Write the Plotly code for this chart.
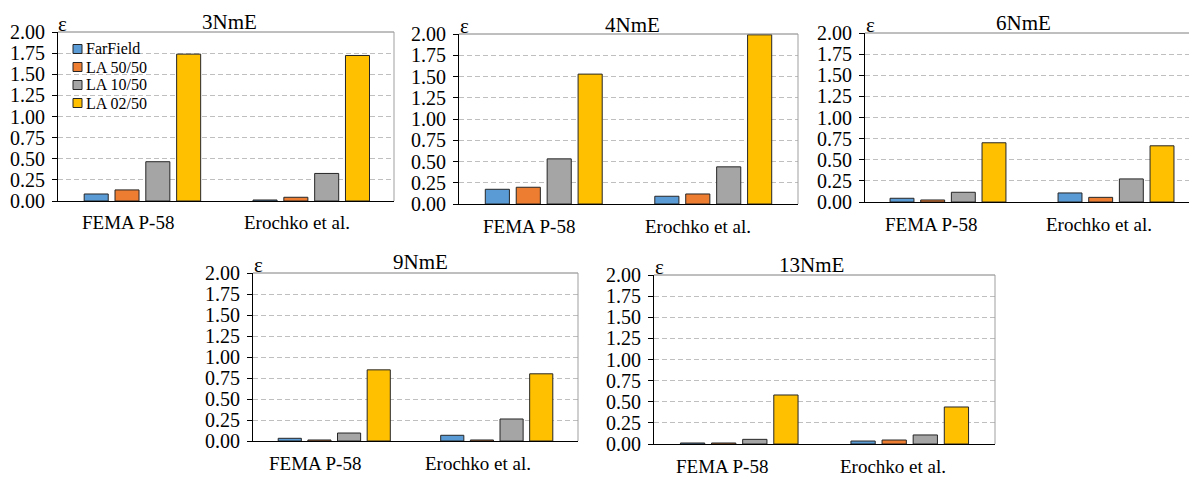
import plotly.graph_objects as go

# ---------------- data ----------------
panels = ["3NmE", "4NmE", "6NmE", "9NmE", "13NmE"]
categories = ["FEMA P-58", "Erochko et al."]
series = ["FarField", "LA 50/50", "LA 10/50", "LA 02/50"]
colors = ["#5B9BD5", "#ED7D31", "#A5A5A5", "#FFC000"]

# values per panel (order of `panels`)
farfield_fema = [0.083, 0.173, 0.044, 0.032, 0.012]
farfield_erochko = [0.012, 0.091, 0.107, 0.068, 0.035]
la5050_fema = [0.131, 0.197, 0.024, 0.012, 0.012]
la5050_erochko = [0.044, 0.118, 0.055, 0.012, 0.047]
la1050_fema = [0.465, 0.531, 0.115, 0.095, 0.055]
la1050_erochko = [0.326, 0.437, 0.273, 0.262, 0.107]
la0250_fema = [1.738, 1.528, 0.701, 0.847, 0.580]
la0250_erochko = [1.722, 1.990, 0.665, 0.800, 0.438]

y_ticks = [0.0, 0.25, 0.5, 0.75, 1.0, 1.25, 1.5, 1.75, 2.0]

series_values = [
    (farfield_fema, farfield_erochko),
    (la5050_fema, la5050_erochko),
    (la1050_fema, la1050_erochko),
    (la0250_fema, la0250_erochko),
]

# ---------------- layout geometry (page pixels) ----------------
PAGE_W, PAGE_H = 1197, 478
OFF = 8  # default page body margin
W, H = PAGE_W - OFF, PAGE_H - OFF
# plot areas: left, right, top, bottom
areas = [(58, 394, 32, 201), (459, 798, 34, 204), (865, 1197, 33, 202),
         (253, 578, 273, 441), (654, 995, 275, 444)]
xranges = [[-0.5, 1.49], [-0.5, 1.5], [-0.494, 1.482], [-0.5, 1.5], [-0.5, 1.5]]
title_pos = [(229, 22), (632, 25), (1023, 23), (420, 262), (812, 265)]
label_shift = [-14, -15, -17, -19, -17]

def px(x):
    return (x - OFF) / W

def py(y):
    return 1 - (y - OFF) / H

FONT = "Liberation Serif"

fig = go.Figure()
layout_axes = {}
shapes = []
annotations = []

for i, p in enumerate(panels):
    n = i + 1
    xa = "x" if n == 1 else f"x{n}"
    ya = "y" if n == 1 else f"y{n}"
    for s, name in enumerate(series):
        fema, ero = series_values[s]
        fig.add_trace(go.Bar(
            x=[0, 1], y=[fema[i], ero[i]], name=name,
            marker=dict(color=colors[s], line=dict(color="#262626", width=1)),
            xaxis=xa, yaxis=ya, legendgroup=name, showlegend=False,
        ))
    l, r, t, b = areas[i]
    layout_axes["xaxis" if n == 1 else f"xaxis{n}"] = dict(
        domain=[px(l), min(px(r), 1.0)], range=xranges[i], anchor=ya,
        tickvals=[0, 1], showticklabels=False, ticks="",
        showline=True, linecolor="#000000", linewidth=1,
        showgrid=False, zeroline=False, fixedrange=True,
    )
    layout_axes["yaxis" if n == 1 else f"yaxis{n}"] = dict(
        domain=[py(b), py(t)], range=[0, 2], anchor=xa,
        tickvals=y_ticks, tickformat=".2f",
        ticks="outside", ticklen=5, tickcolor="#000000", tickwidth=1,
        showline=True, linecolor="#000000", linewidth=1,
        showgrid=True, gridcolor="#BFBFBF", gridwidth=1, griddash="5px,3px",
        zeroline=False, fixedrange=True,
        tickfont=dict(family=FONT, size=20, color="#000000"),
        ticklabelstandoff=3,
    )
    # category labels under each group
    for c, cat in enumerate(categories):
        annotations.append(dict(text=cat, x=c, xref=xa, y=py(b + 22), yref="paper",
                                xanchor="center", yanchor="middle", xshift=label_shift[i],
                                showarrow=False,
                                font=dict(family=FONT, size=19, color="#000000")))
    # top / right border of plot area
    xd = f"{xa} domain"
    yd = f"{ya} domain"
    shapes.append(dict(type="line", xref=xd, yref=yd, x0=0, x1=1, y0=1, y1=1,
                       line=dict(color="#7F7F7F", width=1)))
    if i != 2:
        shapes.append(dict(type="line", xref=xd, yref=yd, x0=1, x1=1, y0=0, y1=1,
                           line=dict(color="#9F9F9F", width=1)))
    # title
    tx, ty = title_pos[i]
    annotations.append(dict(text=p, x=px(tx), y=py(ty), xref="paper", yref="paper",
                            xanchor="center", yanchor="middle", showarrow=False,
                            font=dict(family=FONT, size=21, color="#000000")))
    # epsilon label
    annotations.append(dict(text="ε", x=px(l + 5), y=py(t - 8), xref="paper", yref="paper",
                            xanchor="center", yanchor="middle", showarrow=False,
                            font=dict(family=FONT, size=21, color="#000000")))

# legend (inside first panel)
leg_rows = [49, 67, 85, 103]
for s, name in enumerate(series):
    yc = leg_rows[s]
    shapes.append(dict(type="rect", xref="paper", yref="paper",
                       x0=px(73), x1=px(82), y0=py(yc + 4.5), y1=py(yc - 4.5),
                       fillcolor=colors[s], line=dict(color="#262626", width=1)))
    annotations.append(dict(text=name, x=px(84), y=py(yc), xref="paper", yref="paper",
                            xanchor="left", yanchor="middle", showarrow=False,
                            font=dict(family=FONT, size=16, color="#000000")))

fig.update_layout(
    width=W, height=H,
    margin=dict(l=0, r=0, t=0, b=0, autoexpand=False),
    paper_bgcolor="white", plot_bgcolor="white",
    barmode="group", bargap=0.27, bargroupgap=0.22,
    showlegend=False,
    shapes=shapes, annotations=annotations,
    **layout_axes,
)

fig.write_html("out.html")
